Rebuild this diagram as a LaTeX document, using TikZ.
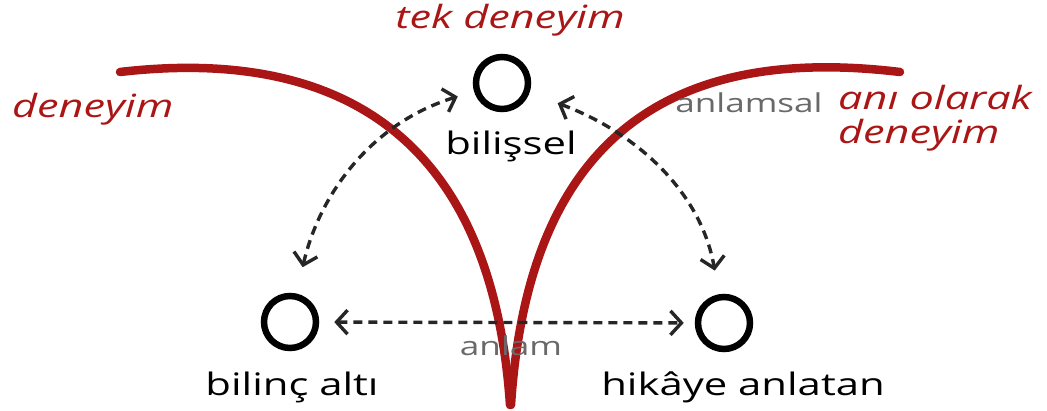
\documentclass[tikz,border=0pt]{standalone}
\usepackage{fontspec}
\setmainfont[FakeStretch=1.35]{Open Sans}
\usetikzlibrary{arrows.meta}
\definecolor{curvered}{RGB}{170,22,22}
\definecolor{labelgray}{RGB}{105,105,105}
\tikzset{
  redcurve/.style={draw=curvered, line width=8.5pt, line cap=round},
  ring/.style={circle, draw=black, line width=6.5pt, minimum size=52pt, inner sep=0pt},
  dasharrow/.style={draw=black!85, line width=3.4pt, dash pattern=on 9pt off 6pt,
    {Straight Barb[length=11pt,width=24pt]}-{Straight Barb[length=11pt,width=24pt]}},
  redlabel/.style={text=curvered, font=\fontsize{32}{34}\selectfont\itshape, inner sep=0pt},
  blacklabel/.style={text=black, font=\fontsize{31}{34}\selectfont, inner sep=0pt},
  graylabel/.style={text=labelgray, font=\fontsize{26}{30}\selectfont, inner sep=0pt}
}
\begin{document}
\begin{tikzpicture}[x=1pt,y=1pt]
\useasboundingbox (0,0) rectangle (1047,410);
% red curves
\draw[redcurve] (120,338) .. controls (310,360) and (490,300) .. (510,5);
\draw[redcurve] (900,338) .. controls (700,362) and (530,300) .. (511,5);
% circles
\node[ring] (bs) at (502,327) {};
\node[ring] (bc) at (290,88) {};
\node[ring] (hc) at (724,87) {};
% dashed connectors
\draw[dasharrow, shorten <=27pt, shorten >=17pt] (bc) to[out=77, in=197] (bs);
\draw[dasharrow, shorten <=30pt, shorten >=24pt] (bs) to[out=-20, in=100] (hc);
\draw[dasharrow, shorten <=15pt, shorten >=11pt] (bc) -- (hc);
% labels
\node[redlabel, anchor=base] (t1) at (510,381) {tek deneyim};
\node[redlabel, anchor=base west] (t2) at (12,292) {deneyim};
\node[redlabel, anchor=north west, align=left] (t3) at (838,325) {anı olarak\\deneyim};
\node[blacklabel, anchor=base] (l1) at (511,255) {bilişsel};
\node[blacklabel, anchor=base] (l2) at (292,15) {bilinç altı};
\node[blacklabel, anchor=base] (l3) at (743,15) {hikâye anlatan};
\node[graylabel, anchor=base] (g1) at (749,297) {anlamsal};
\node[graylabel, anchor=base] (g2) at (511,55) {anlam};
\end{tikzpicture}
\end{document}
